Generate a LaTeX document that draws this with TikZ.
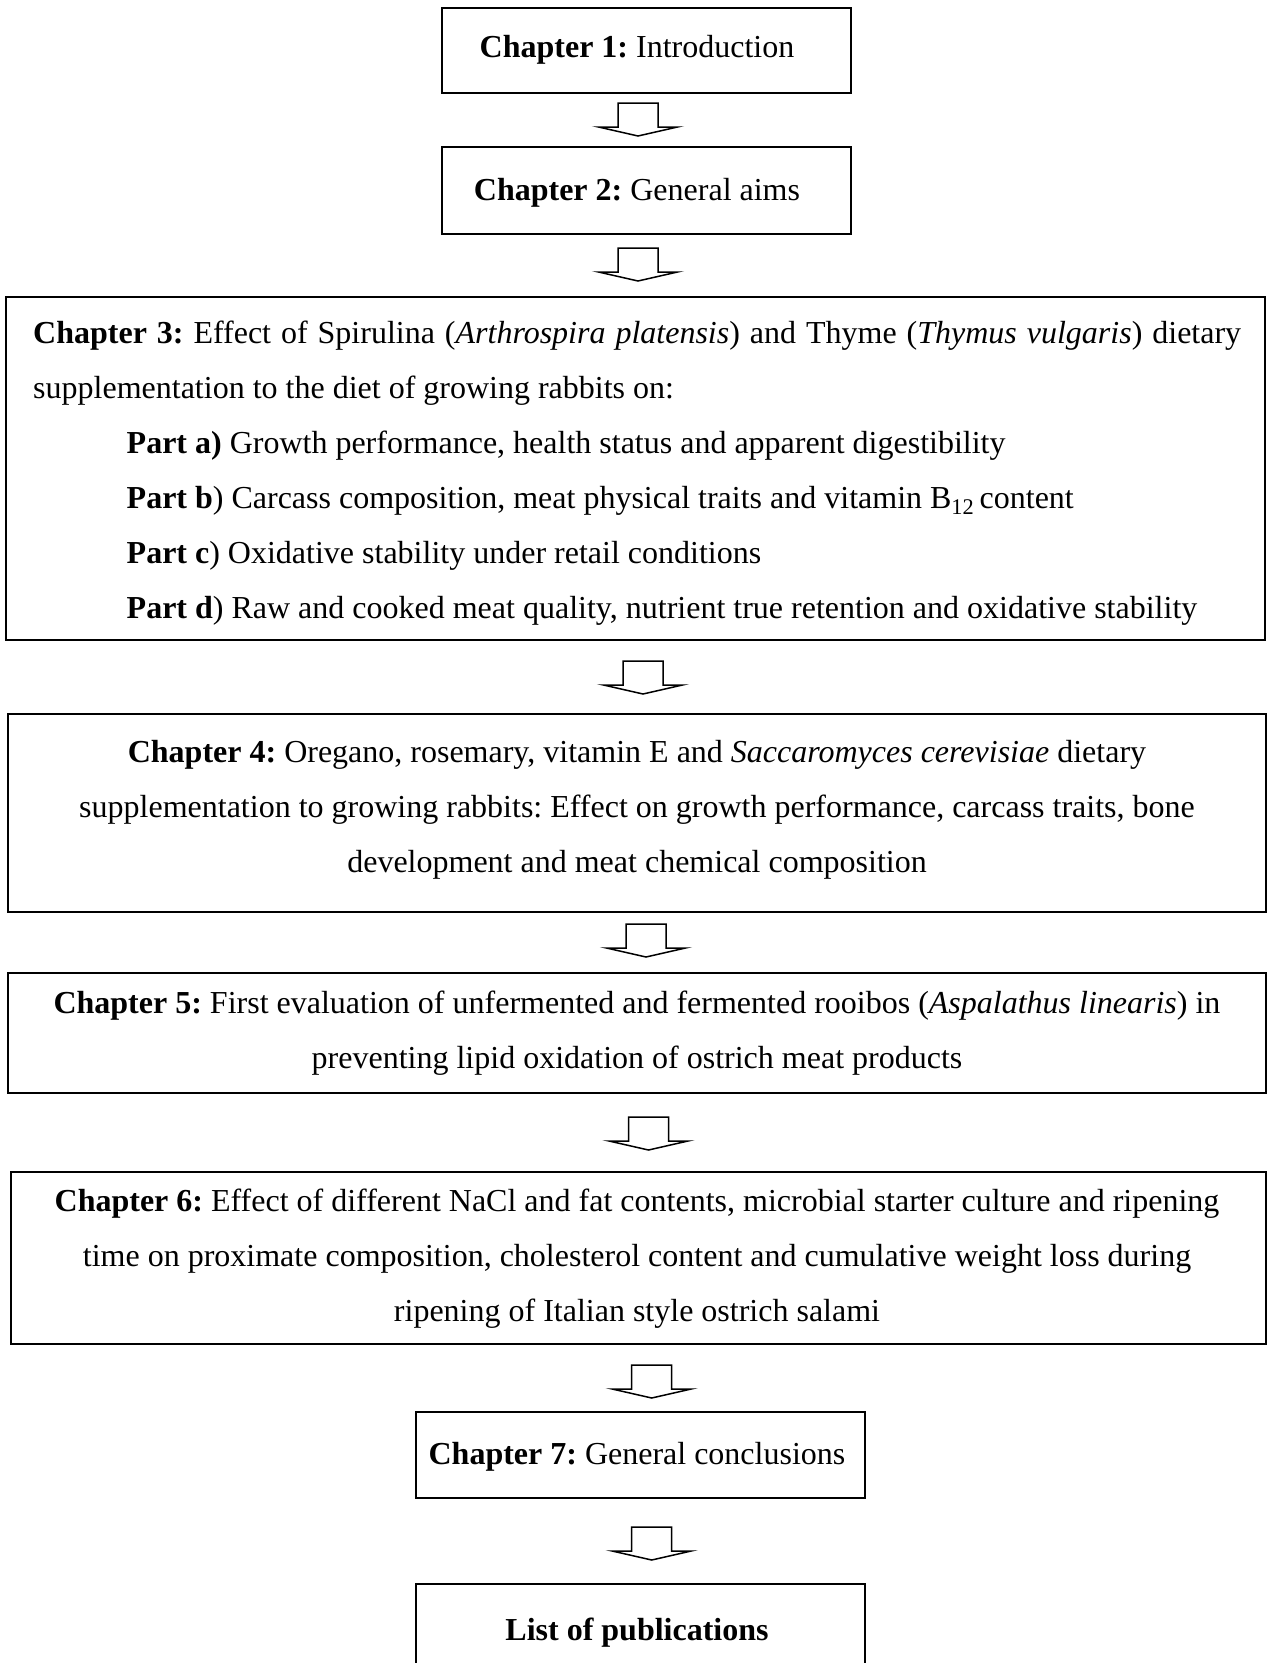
\documentclass[tikz,border=0pt]{standalone}
\usepackage{fontspec}
\setmainfont{Liberation Serif}
\frenchspacing
\begin{document}
\begin{tikzpicture}[x=1bp,y=-1bp,
  box/.style={draw, line width=1.4bp, inner sep=0pt, fill=none},
  txt/.style={anchor=base, inner sep=0pt, font=\fontsize{32bp}{40bp}\selectfont\frenchspacing},
  txtl/.style={txt, anchor=base west},
  blockarr/.style={draw, line width=1.5bp, fill=white, line join=miter}
]
\useasboundingbox (0,0) rectangle (1269,1663);
\clip (0,0) rectangle (1269,1663);
\fill[white] (0,0) rectangle (1269,1663);

% boxes
\node[box, minimum width=409bp, minimum height=85bp]  (c1) at (646.5,50.5) {};
\node[box, minimum width=409bp, minimum height=87bp]  (c2) at (646.5,190.5) {};
\node[box, minimum width=1259bp, minimum height=343bp] (c3) at (635.5,468.5) {};
\node[box, minimum width=1258bp, minimum height=198bp] (c4) at (637,813) {};
\node[box, minimum width=1258bp, minimum height=120bp] (c5) at (637,1033) {};
\node[box, minimum width=1255bp, minimum height=172bp] (c6) at (638.5,1258) {};
\node[box, minimum width=449bp, minimum height=86bp]  (c7) at (640.5,1455) {};
\node[box, minimum width=449bp, minimum height=140bp] (c8) at (640.5,1654) {};

% texts
\node[txt] (t1) at (637,58) {\textbf{Chapter 1:} Introduction};
\node[txt] (t2) at (637,200) {\textbf{Chapter 2:} General aims};

\node[txtl] (t31) at (33,343.3) {\makebox[1208bp][s]{\textbf{Chapter 3:} Effect of Spirulina (\textit{Arthrospira platensis}) and Thyme (\textit{Thymus vulgaris}) dietary}};
\node[txtl] (t32) at (33,398.3) {supplementation to the diet of growing rabbits on:};
\node[txtl] (t33) at (126.5,453.3) {\textbf{Part a)} Growth performance, health status and apparent digestibility};
\node[txtl] (t34) at (126.5,508.3) {\textbf{Part b}) Carcass composition, meat physical traits and vitamin B\textsubscript{12}\,content};
\node[txtl] (t35) at (126.5,563.3) {\textbf{Part c}) Oxidative stability under retail conditions};
\node[txtl] (t36) at (126.5,618.3) {\textbf{Part d}) Raw and cooked meat quality, nutrient true retention and oxidative stability};

\node[txt] (t41) at (637,762) {\textbf{Chapter 4:} Oregano, rosemary, vitamin E and \textit{Saccaromyces cerevisiae} dietary};
\node[txt] (t42) at (637,817) {supplementation to growing rabbits: Effect on growth performance, carcass traits, bone};
\node[txt] (t43) at (637,872) {development and meat chemical composition};

\node[txt] (t51) at (637,1013.5) {\textbf{Chapter 5:} First evaluation of unfermented and fermented rooibos (\textit{Aspalathus linearis}) in};
\node[txt] (t52) at (637,1068.5) {preventing lipid oxidation of ostrich meat products};

\node[txt] (t61) at (637,1211) {\textbf{Chapter 6:} Effect of different NaCl and fat contents, microbial starter culture and ripening};
\node[txt] (t62) at (637,1266) {time on proximate composition, cholesterol content and cumulative weight loss during};
\node[txt] (t63) at (637,1321) {ripening of Italian style ostrich salami};

\node[txt] (t7) at (637,1464) {\textbf{Chapter 7:} General conclusions};
\node[txt] (t8) at (637,1640) {\textbf{List of publications}};

% block arrows
\coordinate (a1) at (638,103);
\coordinate (a2) at (638,248);
\coordinate (a3) at (643,661);
\coordinate (a4) at (646,924);
\coordinate (a5) at (648.5,1117);
\coordinate (a6) at (651.7,1365);
\coordinate (a7) at (651.7,1527);
\foreach \a in {a1,a2,a3,a4,a5,a6,a7}{
  \draw[blockarr] (\a) ++(-20,0) -- ++(0,24) -- ++(-19.5,0) -- ++(39.5,9) -- ++(39.5,-9) -- ++(-19.5,0) -- ++(0,-24) -- cycle;
}
\end{tikzpicture}
\end{document}
